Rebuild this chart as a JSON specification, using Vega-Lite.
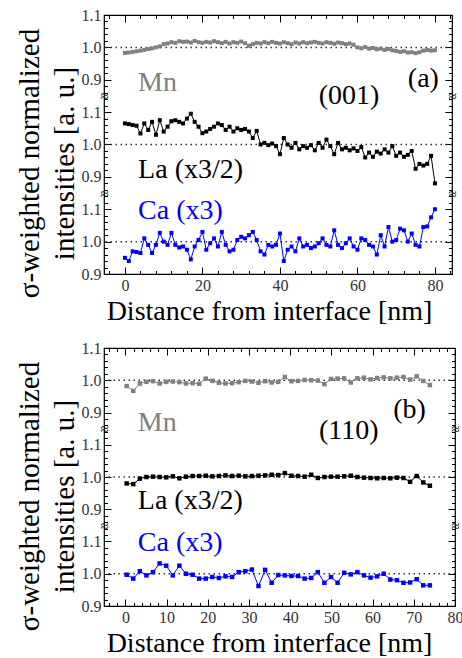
{
"$schema":"https://vega.github.io/schema/vega-lite/v6.json",
"background":"white",
"padding":{"left":14,"top":6,"right":0,"bottom":0},
"bounds":"flush",
"spacing":74,
"config":{"view":{"stroke":"black","strokeWidth":1.2},"axis":{"grid":false,"domain":false,"labelFont":"Liberation Serif","titleFont":"Liberation Serif","labelFlush":false,"labelColor":"#333","tickColor":"black","titleColor":"black","titleFontWeight":"normal"},"text":{"font":"Liberation Serif"}},
"datasets":{
"a":[
{"x":0,"mn":0.983,"la":1.065,"ca":0.950},{"x":1,"mn":0.984,"la":1.063,"ca":0.940},{"x":2,"mn":0.986,"la":1.060,"ca":0.970},{"x":3,"mn":0.988,"la":1.058,"ca":0.968},{"x":4,"mn":0.990,"la":1.034,"ca":0.965},{"x":5,"mn":0.992,"la":1.065,"ca":1.010},{"x":6,"mn":0.995,"la":1.045,"ca":0.990},{"x":7,"mn":0.997,"la":1.070,"ca":0.965},{"x":8,"mn":1.000,"la":1.030,"ca":0.990},{"x":9,"mn":1.003,"la":1.075,"ca":1.027},
{"x":10,"mn":1.010,"la":1.040,"ca":1.000},{"x":11,"mn":1.012,"la":1.055,"ca":0.990},{"x":12,"mn":1.016,"la":1.072,"ca":1.027},{"x":13,"mn":1.014,"la":1.075,"ca":0.990},{"x":14,"mn":1.019,"la":1.070,"ca":0.982},{"x":15,"mn":1.017,"la":1.065,"ca":0.985},{"x":16,"mn":1.018,"la":1.080,"ca":0.975},{"x":17,"mn":1.015,"la":1.095,"ca":0.945},{"x":18,"mn":1.020,"la":1.070,"ca":0.985},{"x":19,"mn":1.016,"la":1.055,"ca":1.005},
{"x":20,"mn":1.014,"la":1.035,"ca":1.030},{"x":21,"mn":1.017,"la":1.040,"ca":0.975},{"x":22,"mn":1.015,"la":1.048,"ca":0.995},{"x":23,"mn":1.019,"la":1.055,"ca":1.010},{"x":24,"mn":1.016,"la":1.065,"ca":0.985},{"x":25,"mn":1.013,"la":1.060,"ca":1.030},{"x":26,"mn":1.017,"la":1.045,"ca":0.990},{"x":27,"mn":1.012,"la":1.055,"ca":0.970},{"x":28,"mn":1.016,"la":1.040,"ca":0.975},{"x":29,"mn":1.014,"la":1.050,"ca":1.005},
{"x":30,"mn":1.018,"la":1.045,"ca":1.015},{"x":31,"mn":1.013,"la":1.048,"ca":1.010},{"x":32,"mn":1.005,"la":1.040,"ca":1.020},{"x":33,"mn":1.010,"la":1.020,"ca":1.030},{"x":34,"mn":1.014,"la":1.042,"ca":1.005},{"x":35,"mn":1.012,"la":1.000,"ca":0.970},{"x":36,"mn":1.016,"la":1.005,"ca":0.960},{"x":37,"mn":1.013,"la":0.998,"ca":0.990},{"x":38,"mn":1.017,"la":1.003,"ca":0.985},{"x":39,"mn":1.014,"la":0.995,"ca":0.990},
{"x":40,"mn":1.012,"la":0.970,"ca":1.025},{"x":41,"mn":1.016,"la":1.020,"ca":0.940},{"x":42,"mn":1.013,"la":1.000,"ca":0.975},{"x":43,"mn":1.010,"la":0.990,"ca":0.985},{"x":44,"mn":1.015,"la":1.005,"ca":0.970},{"x":45,"mn":1.012,"la":0.985,"ca":1.010},{"x":46,"mn":1.016,"la":0.995,"ca":0.985},{"x":47,"mn":1.013,"la":0.990,"ca":0.990},{"x":48,"mn":1.015,"la":0.998,"ca":0.980},{"x":49,"mn":1.017,"la":0.982,"ca":0.985},
{"x":50,"mn":1.014,"la":1.005,"ca":0.995},{"x":51,"mn":1.012,"la":0.990,"ca":1.010},{"x":52,"mn":1.016,"la":1.015,"ca":0.990},{"x":53,"mn":1.014,"la":0.995,"ca":0.985},{"x":54,"mn":1.011,"la":0.970,"ca":1.035},{"x":55,"mn":1.015,"la":1.005,"ca":0.990},{"x":56,"mn":1.013,"la":0.985,"ca":0.980},{"x":57,"mn":1.010,"la":0.990,"ca":0.995},{"x":58,"mn":1.012,"la":0.982,"ca":1.010},{"x":59,"mn":1.008,"la":0.988,"ca":0.985},
{"x":60,"mn":1.000,"la":0.980,"ca":0.975},{"x":61,"mn":0.997,"la":0.992,"ca":1.010},{"x":62,"mn":1.001,"la":0.960,"ca":1.005},{"x":63,"mn":0.996,"la":0.975,"ca":0.990},{"x":64,"mn":0.998,"la":0.962,"ca":0.985},{"x":65,"mn":0.994,"la":0.978,"ca":0.960},{"x":66,"mn":0.996,"la":0.972,"ca":1.020},{"x":67,"mn":0.992,"la":0.985,"ca":0.985},{"x":68,"mn":0.995,"la":0.975,"ca":1.045},{"x":69,"mn":0.991,"la":0.995,"ca":1.000},
{"x":70,"mn":0.989,"la":0.965,"ca":1.005},{"x":71,"mn":0.986,"la":0.975,"ca":1.040},{"x":72,"mn":0.988,"la":0.962,"ca":1.035},{"x":73,"mn":0.984,"la":0.968,"ca":1.000},{"x":74,"mn":0.985,"la":0.980,"ca":1.025},{"x":75,"mn":0.982,"la":0.925,"ca":0.990},{"x":76,"mn":0.985,"la":0.940,"ca":0.985},{"x":77,"mn":0.990,"la":0.935,"ca":1.045},{"x":78,"mn":0.992,"la":0.940,"ca":1.047},{"x":79,"mn":0.990,"la":0.965,"ca":1.075},
{"x":80,"mn":0.991,"la":0.880,"ca":1.100}
],
"b":[
{"x":0.3,"mn":0.982,"la":0.980,"ca":0.997},{"x":1.9,"mn":0.967,"la":0.978,"ca":0.985},{"x":3.5,"mn":0.990,"la":0.995,"ca":1.008},{"x":5.1,"mn":0.995,"la":1.000,"ca":0.995},{"x":6.7,"mn":0.997,"la":1.001,"ca":1.005},{"x":8.3,"mn":0.990,"la":1.000,"ca":1.032},{"x":9.9,"mn":0.995,"la":0.999,"ca":1.025},{"x":11.5,"mn":0.996,"la":1.002,"ca":0.995},{"x":13.1,"mn":0.994,"la":0.996,"ca":1.025},{"x":14.7,"mn":0.990,"la":1.001,"ca":1.000},
{"x":16.3,"mn":0.991,"la":1.003,"ca":0.997},{"x":17.9,"mn":0.989,"la":1.003,"ca":0.985},{"x":19.5,"mn":1.005,"la":1.004,"ca":0.985},{"x":21.1,"mn":0.998,"la":1.002,"ca":0.990},{"x":22.7,"mn":0.992,"la":1.003,"ca":0.987},{"x":24.3,"mn":0.990,"la":1.005,"ca":0.992},{"x":25.9,"mn":0.991,"la":1.003,"ca":0.990},{"x":27.5,"mn":0.994,"la":1.004,"ca":1.005},{"x":29.1,"mn":0.998,"la":1.002,"ca":1.008},{"x":30.7,"mn":0.996,"la":1.003,"ca":1.013},
{"x":32.3,"mn":0.992,"la":1.004,"ca":0.962},{"x":33.9,"mn":0.997,"la":1.005,"ca":1.012},{"x":35.5,"mn":0.993,"la":1.007,"ca":0.972},{"x":37.1,"mn":0.995,"la":1.006,"ca":0.996},{"x":38.7,"mn":1.010,"la":1.012,"ca":0.995},{"x":40.3,"mn":0.997,"la":1.004,"ca":0.993},{"x":41.9,"mn":0.998,"la":1.003,"ca":0.993},{"x":43.5,"mn":1.001,"la":1.001,"ca":0.985},{"x":45.1,"mn":1.000,"la":1.007,"ca":0.987},{"x":46.7,"mn":0.999,"la":0.997,"ca":1.005},
{"x":48.3,"mn":0.988,"la":1.000,"ca":0.972},{"x":49.9,"mn":1.004,"la":1.001,"ca":0.990},{"x":51.5,"mn":1.005,"la":1.001,"ca":0.972},{"x":53.1,"mn":1.006,"la":1.002,"ca":1.003},{"x":54.7,"mn":0.993,"la":1.004,"ca":0.998},{"x":56.3,"mn":1.006,"la":1.000,"ca":1.005},{"x":57.9,"mn":1.008,"la":0.998,"ca":0.995},{"x":59.5,"mn":1.003,"la":0.997,"ca":0.988},{"x":61.1,"mn":1.007,"la":0.996,"ca":0.992},{"x":62.7,"mn":1.009,"la":0.997,"ca":1.000},
{"x":64.3,"mn":1.006,"la":0.996,"ca":0.982},{"x":65.9,"mn":1.008,"la":0.998,"ca":0.980},{"x":67.5,"mn":1.010,"la":0.997,"ca":0.972},{"x":69.1,"mn":1.002,"la":0.985,"ca":0.973},{"x":70.7,"mn":1.012,"la":1.003,"ca":0.983},{"x":72.3,"mn":0.998,"la":0.983,"ca":0.964},{"x":73.9,"mn":0.985,"la":0.973,"ca":0.964}
]
},
"vconcat":[
{
"width":348,"height":259,
"data":{"name":"a"},
"resolve":{"scale":{"y":"independent"},"axis":{"x":"independent","y":"independent"}},
"encoding":{"x":{"field":"x","type":"quantitative","scale":{"domain":[-5.4,84.4],"nice":false,"zero":false},"axis":null}},
"layer":[
{"layer":[
{"data":{"values":[{}]},"mark":{"type":"rule","color":"#333","strokeDash":[1.5,3.5],"strokeWidth":1.5},"encoding":{"x":null,"y":{"datum":1.0,"type":"quantitative","scale":{"domain":[0.3,1.1],"nice":false,"zero":false},"axis":null}}},
{"mark":{"type":"line","color":"#808080","strokeWidth":1},"encoding":{"y":{"field":"mn","type":"quantitative","scale":{"domain":[0.3,1.1],"nice":false,"zero":false},"axis":null}}},
{"mark":{"type":"square","color":"#808080","size":16,"opacity":1},"encoding":{"y":{"field":"mn","type":"quantitative","axis":null}}}
]},
{"layer":[
{"data":{"values":[{}]},"mark":{"type":"rule","color":"#333","strokeDash":[1.5,3.5],"strokeWidth":1.5},"encoding":{"x":null,"y":{"datum":1.0,"type":"quantitative","scale":{"domain":[0.6,1.4],"nice":false,"zero":false},"axis":null}}},
{"mark":{"type":"line","color":"black","strokeWidth":1},"encoding":{"y":{"field":"la","type":"quantitative","scale":{"domain":[0.6,1.4],"nice":false,"zero":false},"axis":null}}},
{"mark":{"type":"square","color":"black","size":16,"opacity":1},"encoding":{"y":{"field":"la","type":"quantitative","axis":null}}}
]},
{"layer":[
{"data":{"values":[{}]},"mark":{"type":"rule","color":"#333","strokeDash":[1.5,3.5],"strokeWidth":1.5},"encoding":{"x":null,"y":{"datum":1.0,"type":"quantitative","scale":{"domain":[0.9,1.7],"nice":false,"zero":false},"axis":null}}},
{"mark":{"type":"line","color":"#0000ff","strokeWidth":1},"encoding":{"y":{"field":"ca","type":"quantitative","scale":{"domain":[0.9,1.7],"nice":false,"zero":false},"axis":null}}},
{"mark":{"type":"square","color":"#0000ff","size":16,"opacity":1},"encoding":{"y":{"field":"ca","type":"quantitative","axis":null}}}
]},
{"data":{"values":[{}]},"mark":{"type":"point","opacity":0},"encoding":{
"x":{"datum":0,"type":"quantitative","axis":{"orient":"bottom","values":[0,20,40,60,80],"tickSize":-7,"labelPadding":10,"labelFontSize":16,"labelFont":"Liberation Serif","titleFont":"Liberation Serif","title":"Distance from interface [nm]","titleFontSize":28,"titlePadding":4,"titleX":165}},
"y":{"datum":1,"type":"quantitative","scale":{"domain":[0.9,1.7],"nice":false,"zero":false},"axis":{"orient":"left","values":[0.9,1.0,1.1,1.2,1.3,1.4,1.5,1.6,1.7],"tickSize":-7,"labelPadding":10,"labelFontSize":16,"labelFont":"Liberation Serif","titleFont":"Liberation Serif","labelExpr":"datum.value > 1.45 ? format(datum.value - 0.6, '.1f') : datum.value > 1.15 ? format(datum.value - 0.3, '.1f') : format(datum.value, '.1f')","title":["σ-weighted normalized","intensities [a. u.]"],"titleFontSize":29,"titleLineHeight":35,"titlePadding":2,"titleY":148}}}},
{"data":{"values":[{}]},"mark":{"type":"point","opacity":0},"encoding":{
"x":{"datum":0,"type":"quantitative","axis":{"orient":"bottom","values":[-4,0,4,8,12,16,20,24,28,32,36,40,44,48,52,56,60,64,68,72,76,80,84],"tickSize":-3.5,"labels":false,"title":null}},
"y":{"datum":1,"type":"quantitative","scale":{"domain":[0.9,1.7],"nice":false,"zero":false},"axis":{"orient":"left","values":[0.9,0.92,0.94,0.96,0.98,1.0,1.02,1.04,1.06,1.08,1.1,1.12,1.14,1.16,1.18,1.2,1.22,1.24,1.26,1.28,1.3,1.32,1.34,1.36,1.38,1.4,1.42,1.44,1.46,1.48,1.5,1.52,1.54,1.56,1.58,1.6,1.62,1.64,1.66,1.68,1.7],"tickSize":-3.5,"labels":false,"title":null}}}},
{"data":{"values":[{}]},"mark":{"type":"point","opacity":0},"encoding":{
"x":{"datum":0,"type":"quantitative","axis":{"orient":"top","values":[0,20,40,60,80],"tickSize":-7,"labels":false,"title":null}},
"y":{"datum":1,"type":"quantitative","scale":{"domain":[0.9,1.7],"nice":false,"zero":false},"axis":{"orient":"right","values":[0.9,1.0,1.1,1.2,1.3,1.4,1.5,1.6,1.7],"tickSize":-7,"labels":false,"title":null}}}},
{"data":{"values":[{}]},"mark":{"type":"point","opacity":0},"encoding":{
"x":{"datum":0,"type":"quantitative","axis":{"orient":"top","values":[-4,0,4,8,12,16,20,24,28,32,36,40,44,48,52,56,60,64,68,72,76,80,84],"tickSize":-3.5,"labels":false,"title":null}},
"y":{"datum":1,"type":"quantitative","scale":{"domain":[0.9,1.7],"nice":false,"zero":false},"axis":{"orient":"right","values":[0.9,0.92,0.94,0.96,0.98,1.0,1.02,1.04,1.06,1.08,1.1,1.12,1.14,1.16,1.18,1.2,1.22,1.24,1.26,1.28,1.3,1.32,1.34,1.36,1.38,1.4,1.42,1.44,1.46,1.48,1.5,1.52,1.54,1.56,1.58,1.6,1.62,1.64,1.66,1.68,1.7],"tickSize":-3.5,"labels":false,"title":null}}}},
{"data":{"values":[{}]},"mark":{"type":"point","opacity":0},"encoding":{"x":{"datum":0,"type":"quantitative","axis":null},
"y":{"datum":1,"type":"quantitative","scale":{"domain":[0.9,1.7],"nice":false,"zero":false},"axis":{"orient":"left","values":[1.15,1.45],"ticks":false,"labelExpr":"'≈'","labelAlign":"center","labelBaseline":"middle","labelPadding":0,"labelFontSize":15,"labelColor":"black","title":null}}}},
{"data":{"values":[{}]},"mark":{"type":"point","opacity":0},"encoding":{"x":{"datum":0,"type":"quantitative","axis":null},
"y":{"datum":1,"type":"quantitative","scale":{"domain":[0.9,1.7],"nice":false,"zero":false},"axis":{"orient":"right","values":[1.15,1.45],"ticks":false,"labelExpr":"'≈'","labelAlign":"center","labelBaseline":"middle","labelPadding":0,"labelFontSize":15,"labelColor":"black","title":null}}}},
{"transform":[{"filter":{"field":"x","equal":0}}],"mark":{"type":"text","align":"left","baseline":"alphabetic","font":"Liberation Serif","fontSize":28,"color":"#808080","text":"Mn"},"encoding":{"x":{"datum":3.4,"type":"quantitative","axis":null},"y":{"datum":1.466,"type":"quantitative","scale":{"domain":[0.9,1.7],"nice":false,"zero":false},"axis":null}}},
{"transform":[{"filter":{"field":"x","equal":0}}],"mark":{"type":"text","align":"left","baseline":"alphabetic","font":"Liberation Serif","fontSize":28,"color":"black","text":"La (x3/2)"},"encoding":{"x":{"datum":3.4,"type":"quantitative","axis":null},"y":{"datum":1.196,"type":"quantitative","scale":{"domain":[0.9,1.7],"nice":false,"zero":false},"axis":null}}},
{"transform":[{"filter":{"field":"x","equal":0}}],"mark":{"type":"text","align":"left","baseline":"alphabetic","font":"Liberation Serif","fontSize":28,"color":"#0000ff","text":"Ca (x3)"},"encoding":{"x":{"datum":3.4,"type":"quantitative","axis":null},"y":{"datum":1.069,"type":"quantitative","scale":{"domain":[0.9,1.7],"nice":false,"zero":false},"axis":null}}},
{"transform":[{"filter":{"field":"x","equal":0}}],"mark":{"type":"text","align":"left","baseline":"alphabetic","font":"Liberation Serif","fontSize":28,"color":"black","text":"(001)"},"encoding":{"x":{"datum":50,"type":"quantitative","axis":null},"y":{"datum":1.426,"type":"quantitative","scale":{"domain":[0.9,1.7],"nice":false,"zero":false},"axis":null}}},
{"transform":[{"filter":{"field":"x","equal":0}}],"mark":{"type":"text","align":"left","baseline":"alphabetic","font":"Liberation Serif","fontSize":28,"color":"black","text":"(a)"},"encoding":{"x":{"datum":73,"type":"quantitative","axis":null},"y":{"datum":1.478,"type":"quantitative","scale":{"domain":[0.9,1.7],"nice":false,"zero":false},"axis":null}}}
]
},
{
"width":351,"height":258,
"data":{"name":"b"},
"resolve":{"scale":{"y":"independent"},"axis":{"x":"independent","y":"independent"}},
"encoding":{"x":{"field":"x","type":"quantitative","scale":{"domain":[-5.2,80],"nice":false,"zero":false},"axis":null}},
"layer":[
{"layer":[
{"data":{"values":[{}]},"mark":{"type":"rule","color":"#333","strokeDash":[1.5,3.5],"strokeWidth":1.5},"encoding":{"x":null,"y":{"datum":1.0,"type":"quantitative","scale":{"domain":[0.3,1.1],"nice":false,"zero":false},"axis":null}}},
{"mark":{"type":"line","color":"#808080","strokeWidth":1},"encoding":{"y":{"field":"mn","type":"quantitative","scale":{"domain":[0.3,1.1],"nice":false,"zero":false},"axis":null}}},
{"mark":{"type":"square","color":"#808080","size":20,"opacity":1},"encoding":{"y":{"field":"mn","type":"quantitative","axis":null}}}
]},
{"layer":[
{"data":{"values":[{}]},"mark":{"type":"rule","color":"#333","strokeDash":[1.5,3.5],"strokeWidth":1.5},"encoding":{"x":null,"y":{"datum":1.0,"type":"quantitative","scale":{"domain":[0.6,1.4],"nice":false,"zero":false},"axis":null}}},
{"mark":{"type":"line","color":"black","strokeWidth":1},"encoding":{"y":{"field":"la","type":"quantitative","scale":{"domain":[0.6,1.4],"nice":false,"zero":false},"axis":null}}},
{"mark":{"type":"square","color":"black","size":20,"opacity":1},"encoding":{"y":{"field":"la","type":"quantitative","axis":null}}}
]},
{"layer":[
{"data":{"values":[{}]},"mark":{"type":"rule","color":"#333","strokeDash":[1.5,3.5],"strokeWidth":1.5},"encoding":{"x":null,"y":{"datum":1.0,"type":"quantitative","scale":{"domain":[0.9,1.7],"nice":false,"zero":false},"axis":null}}},
{"mark":{"type":"line","color":"#0000ff","strokeWidth":1},"encoding":{"y":{"field":"ca","type":"quantitative","scale":{"domain":[0.9,1.7],"nice":false,"zero":false},"axis":null}}},
{"mark":{"type":"square","color":"#0000ff","size":20,"opacity":1},"encoding":{"y":{"field":"ca","type":"quantitative","axis":null}}}
]},
{"data":{"values":[{}]},"mark":{"type":"point","opacity":0},"encoding":{
"x":{"datum":0,"type":"quantitative","axis":{"orient":"bottom","values":[0,10,20,30,40,50,60,70,80],"tickSize":-7,"labelPadding":10,"labelFontSize":16,"labelFont":"Liberation Serif","titleFont":"Liberation Serif","title":"Distance from interface [nm]","titleFontSize":28,"titlePadding":4,"titleX":165}},
"y":{"datum":1,"type":"quantitative","scale":{"domain":[0.9,1.7],"nice":false,"zero":false},"axis":{"orient":"left","values":[0.9,1.0,1.1,1.2,1.3,1.4,1.5,1.6,1.7],"tickSize":-7,"labelPadding":10,"labelFontSize":16,"labelFont":"Liberation Serif","titleFont":"Liberation Serif","labelExpr":"datum.value > 1.45 ? format(datum.value - 0.6, '.1f') : datum.value > 1.15 ? format(datum.value - 0.3, '.1f') : format(datum.value, '.1f')","title":["σ-weighted normalized","intensities [a. u.]"],"titleFontSize":29,"titleLineHeight":35,"titlePadding":2,"titleY":148}}}},
{"data":{"values":[{}]},"mark":{"type":"point","opacity":0},"encoding":{
"x":{"datum":0,"type":"quantitative","axis":{"orient":"bottom","values":[-4,-2,0,2,4,6,8,10,12,14,16,18,20,22,24,26,28,30,32,34,36,38,40,42,44,46,48,50,52,54,56,58,60,62,64,66,68,70,72,74,76,78,80],"tickSize":-3.5,"labels":false,"title":null}},
"y":{"datum":1,"type":"quantitative","scale":{"domain":[0.9,1.7],"nice":false,"zero":false},"axis":{"orient":"left","values":[0.9,0.92,0.94,0.96,0.98,1.0,1.02,1.04,1.06,1.08,1.1,1.12,1.14,1.16,1.18,1.2,1.22,1.24,1.26,1.28,1.3,1.32,1.34,1.36,1.38,1.4,1.42,1.44,1.46,1.48,1.5,1.52,1.54,1.56,1.58,1.6,1.62,1.64,1.66,1.68,1.7],"tickSize":-3.5,"labels":false,"title":null}}}},
{"data":{"values":[{}]},"mark":{"type":"point","opacity":0},"encoding":{
"x":{"datum":0,"type":"quantitative","axis":{"orient":"top","values":[0,10,20,30,40,50,60,70,80],"tickSize":-7,"labels":false,"title":null}},
"y":{"datum":1,"type":"quantitative","scale":{"domain":[0.9,1.7],"nice":false,"zero":false},"axis":{"orient":"right","values":[0.9,1.0,1.1,1.2,1.3,1.4,1.5,1.6,1.7],"tickSize":-7,"labels":false,"title":null}}}},
{"data":{"values":[{}]},"mark":{"type":"point","opacity":0},"encoding":{
"x":{"datum":0,"type":"quantitative","axis":{"orient":"top","values":[-4,-2,0,2,4,6,8,10,12,14,16,18,20,22,24,26,28,30,32,34,36,38,40,42,44,46,48,50,52,54,56,58,60,62,64,66,68,70,72,74,76,78,80],"tickSize":-3.5,"labels":false,"title":null}},
"y":{"datum":1,"type":"quantitative","scale":{"domain":[0.9,1.7],"nice":false,"zero":false},"axis":{"orient":"right","values":[0.9,0.92,0.94,0.96,0.98,1.0,1.02,1.04,1.06,1.08,1.1,1.12,1.14,1.16,1.18,1.2,1.22,1.24,1.26,1.28,1.3,1.32,1.34,1.36,1.38,1.4,1.42,1.44,1.46,1.48,1.5,1.52,1.54,1.56,1.58,1.6,1.62,1.64,1.66,1.68,1.7],"tickSize":-3.5,"labels":false,"title":null}}}},
{"data":{"values":[{}]},"mark":{"type":"point","opacity":0},"encoding":{"x":{"datum":0,"type":"quantitative","axis":null},
"y":{"datum":1,"type":"quantitative","scale":{"domain":[0.9,1.7],"nice":false,"zero":false},"axis":{"orient":"left","values":[1.15,1.45],"ticks":false,"labelExpr":"'≈'","labelAlign":"center","labelBaseline":"middle","labelPadding":0,"labelFontSize":15,"labelColor":"black","title":null}}}},
{"data":{"values":[{}]},"mark":{"type":"point","opacity":0},"encoding":{"x":{"datum":0,"type":"quantitative","axis":null},
"y":{"datum":1,"type":"quantitative","scale":{"domain":[0.9,1.7],"nice":false,"zero":false},"axis":{"orient":"right","values":[1.15,1.45],"ticks":false,"labelExpr":"'≈'","labelAlign":"center","labelBaseline":"middle","labelPadding":0,"labelFontSize":15,"labelColor":"black","title":null}}}},
{"transform":[{"filter":{"field":"x","equal":0.3}}],"mark":{"type":"text","align":"left","baseline":"alphabetic","font":"Liberation Serif","fontSize":28,"color":"#808080","text":"Mn"},"encoding":{"x":{"datum":3,"type":"quantitative","axis":null},"y":{"datum":1.443,"type":"quantitative","scale":{"domain":[0.9,1.7],"nice":false,"zero":false},"axis":null}}},
{"transform":[{"filter":{"field":"x","equal":0.3}}],"mark":{"type":"text","align":"left","baseline":"alphabetic","font":"Liberation Serif","fontSize":28,"color":"black","text":"La (x3/2)"},"encoding":{"x":{"datum":3,"type":"quantitative","axis":null},"y":{"datum":1.201,"type":"quantitative","scale":{"domain":[0.9,1.7],"nice":false,"zero":false},"axis":null}}},
{"transform":[{"filter":{"field":"x","equal":0.3}}],"mark":{"type":"text","align":"left","baseline":"alphabetic","font":"Liberation Serif","fontSize":28,"color":"#0000ff","text":"Ca (x3)"},"encoding":{"x":{"datum":3,"type":"quantitative","axis":null},"y":{"datum":1.071,"type":"quantitative","scale":{"domain":[0.9,1.7],"nice":false,"zero":false},"axis":null}}},
{"transform":[{"filter":{"field":"x","equal":0.3}}],"mark":{"type":"text","align":"left","baseline":"alphabetic","font":"Liberation Serif","fontSize":28,"color":"black","text":"(110)"},"encoding":{"x":{"datum":47,"type":"quantitative","axis":null},"y":{"datum":1.418,"type":"quantitative","scale":{"domain":[0.9,1.7],"nice":false,"zero":false},"axis":null}}},
{"transform":[{"filter":{"field":"x","equal":0.3}}],"mark":{"type":"text","align":"left","baseline":"alphabetic","font":"Liberation Serif","fontSize":28,"color":"black","text":"(b)"},"encoding":{"x":{"datum":65,"type":"quantitative","axis":null},"y":{"datum":1.483,"type":"quantitative","scale":{"domain":[0.9,1.7],"nice":false,"zero":false},"axis":null}}}
]
}
]
}
